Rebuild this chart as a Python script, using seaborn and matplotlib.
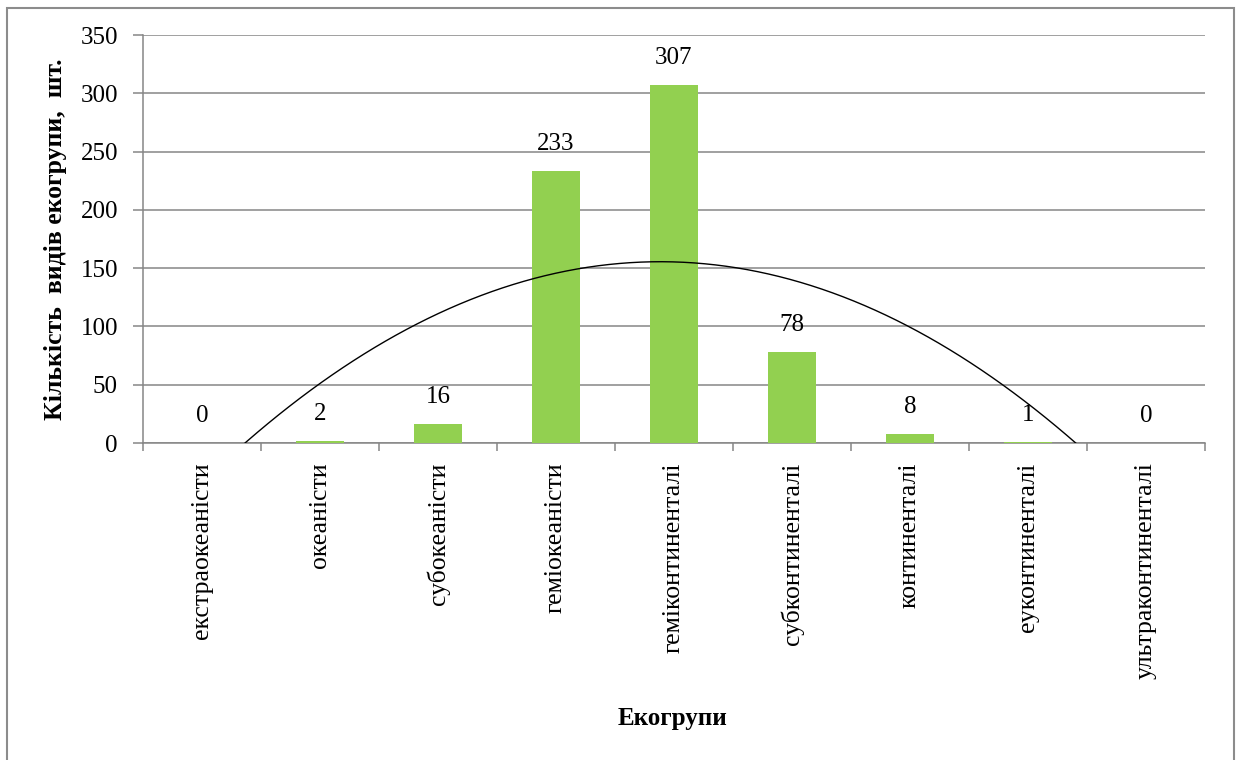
import numpy as np
import pandas as pd
import matplotlib
matplotlib.use("Agg")
import matplotlib.pyplot as plt
from matplotlib.patches import Rectangle
import seaborn as sns

# Ecological groups (continentality gradient) and species counts
groups = [
    "екстраокеаністи", "океаністи", "субокеаністи", "геміокеаністи",
    "геміконтиненталі", "субконтиненталі", "континенталі",
    "еуконтиненталі", "ультраконтиненталі",
]
counts = [0, 2, 16, 233, 307, 78, 8, 1, 0]
y_ticks = [0, 50, 100, 150, 200, 250, 300, 350]

sns.set_theme(style="white")
plt.rcParams["font.family"] = ["Liberation Serif", "DejaVu Serif"]

df = pd.DataFrame({"group": groups, "count": counts})

W, H = 1241, 760
fig = plt.figure(figsize=(W / 100, H / 100), dpi=100)
ax = fig.add_axes([143 / W, 1 - 443 / H, (1205 - 143) / W, (443 - 35) / H])

grid_col = "#868686"

sns.barplot(data=df, x="group", y="count", color="#92D050", width=0.41,
            saturation=1, linewidth=0, ax=ax, zorder=3)

# Second-order polynomial trend through the counts
xs = np.arange(len(counts))
coef = np.polyfit(xs, counts, 2)
xt = np.linspace(-0.5, len(counts) - 0.5, 400)
ax.plot(xt, np.polyval(coef, xt), color="black", lw=1.0, zorder=4)

# Value labels above bars
for i, v in enumerate(counts):
    ax.annotate(str(v), (i, v), xytext=(0, 19.5), textcoords="offset points",
                ha="center", va="center", fontsize=18, color="black", zorder=5)

ax.set_ylim(0, 350)
ax.set_xlim(-0.5, len(counts) - 0.5)
ax.set_yticks(y_ticks)
ax.yaxis.grid(True, color=grid_col, lw=1.1)
ax.set_axisbelow(True)

for side in ["top", "right"]:
    ax.spines[side].set_visible(False)
for side in ["left", "bottom"]:
    ax.spines[side].set_color(grid_col)
    ax.spines[side].set_linewidth(1.1)

ax.tick_params(axis="y", which="major", length=7, width=1.1, color=grid_col,
               direction="out", left=True, pad=11, labelsize=18, labelcolor="black")
ax.set_xticks(xs)
ax.set_xticklabels(groups, rotation=90, ha="center", va="top")
ax.tick_params(axis="x", which="major", length=0, pad=14, labelsize=18.5,
               labelcolor="black")
ax.set_xticks(np.arange(-0.5, len(counts), 1.0), minor=True)
ax.tick_params(axis="x", which="minor", length=6, width=1.1, color=grid_col,
               direction="out", bottom=True)

ax.set_xlabel("Екогрупи", fontsize=18, fontweight="bold", color="black")
ax.xaxis.label.set_verticalalignment("center")
ax.xaxis.set_label_coords(0.499, (443 - 718) / 408)

ax.set_ylabel("Кількість  видів екогрупи,  шт.", fontsize=18.5,
              fontweight="bold", color="black")
ax.yaxis.label.set_verticalalignment("center")
ax.yaxis.set_label_coords((56 - 143) / 1062, 0.5)

# Chart frame
fig.patches.append(Rectangle((7 / W, -0.02), (1234 - 7) / W, 1 - 8 / H + 0.02,
                             transform=fig.transFigure, fill=False,
                             edgecolor="#8c8c8c", lw=1.5))

fig.savefig("out.png", dpi=100, facecolor="white")
